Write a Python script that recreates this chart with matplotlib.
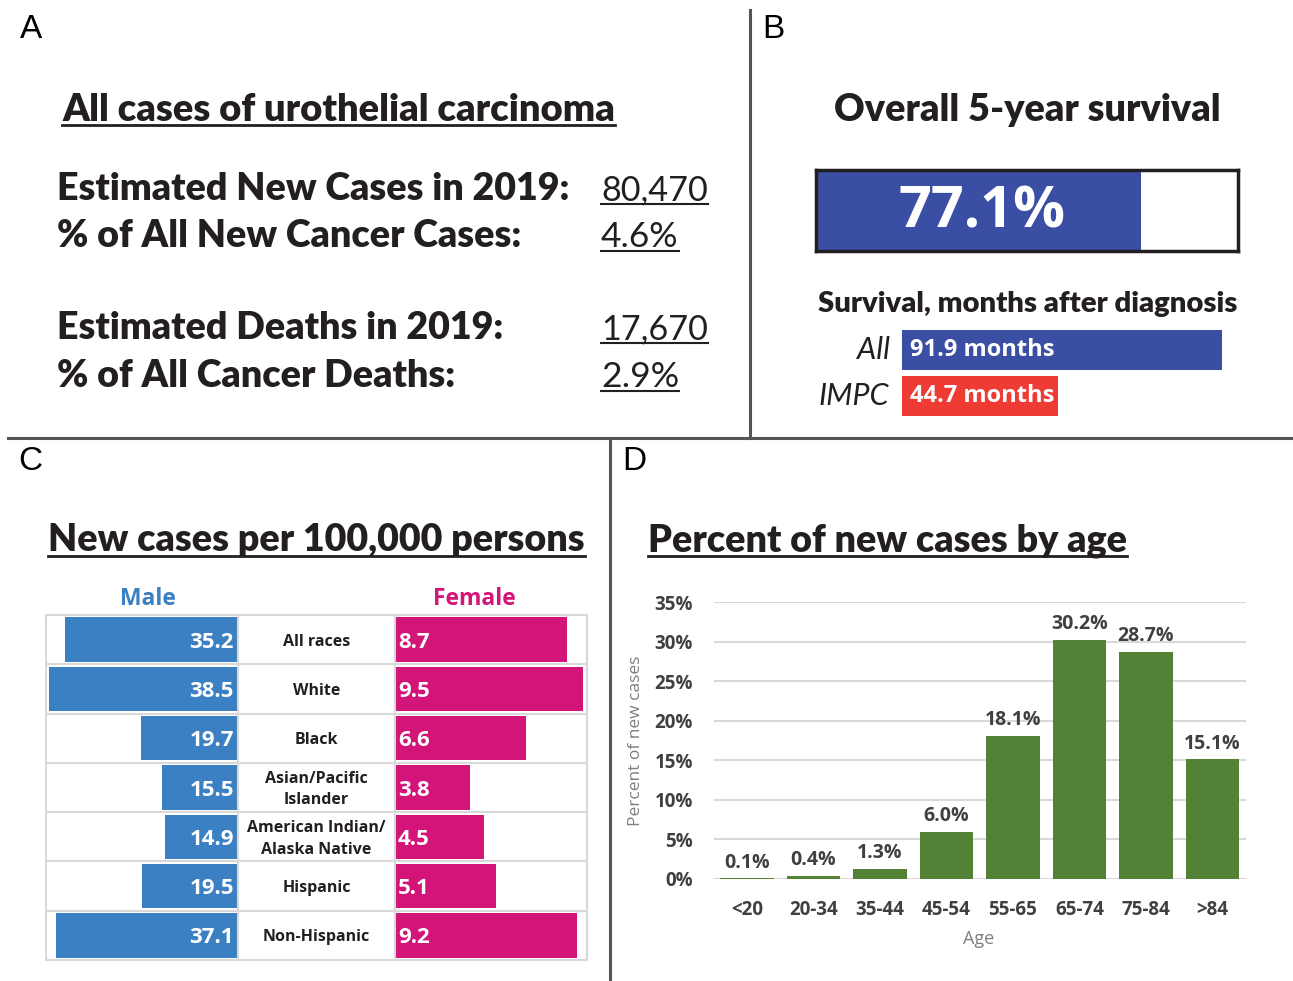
import numpy as np
import matplotlib.pyplot as plt
from matplotlib.lines import Line2D

# figure size in pixels (dpi 100)
W, H = 1293, 981

# Panel A: headline numbers
stat_labels = ["Estimated New Cases in 2019:", "% of All New Cancer Cases:",
               "Estimated Deaths in 2019:", "% of All Cancer Deaths:"]
stat_values = ["80,470", "4.6%", "17,670", "2.9%"]

# Panel B: survival
overall_survival = 77.1
survival_groups = ["All", "IMPC"]
survival_months = [91.9, 44.7]

# Panel C: incidence per 100,000 by race and sex
races = ["All races", "White", "Black", "Asian/Pacific\nIslander",
         "American Indian/\nAlaska Native", "Hispanic", "Non-Hispanic"]
male_rate = [35.2, 38.5, 19.7, 15.5, 14.9, 19.5, 37.1]
female_rate = [8.7, 9.5, 6.6, 3.8, 4.5, 5.1, 9.2]

# Panel D: percent of new cases by age
age_groups = ["<20", "20-34", "35-44", "45-54", "55-65", "65-74", "75-84", ">84"]
age_pct = [0.1, 0.4, 1.3, 6.0, 18.1, 30.2, 28.7, 15.1]

NARROW = ["Lato", "DejaVu Sans"]
SANS = ["Open Sans", "DejaVu Sans"]
HELV = ["Liberation Sans", "DejaVu Sans"]
HEAVY = 800

BLUE_B = "#3a4fa3"
RED_B = "#ee3b33"
MALE_C = "#3a80c3"
FEMALE_C = "#d3157a"
GREEN = "#538135"
GRID = "#d9d9d9"
DARK = "#404040"
INK = "#231f20"


def box(x0, y0, x1, y1):
    return [x0 / W, 1 - y1 / H, (x1 - x0) / W, (y1 - y0) / H]


def txt(x, y, s, **kw):
    return fig.text(x / W, 1 - y / H, s, **kw)


fig = plt.figure(figsize=(W / 100, H / 100), dpi=100)
underlines = []
fits = []  # (text, target width in px) -- condensed look of the original font

# divider lines
for xs, ys in [([750, 750], [10, 438]), ([8, 1293], [438, 438]), ([610, 610], [438, 981])]:
    fig.add_artist(Line2D([x / W for x in xs], [1 - y / H for y in ys],
                          transform=fig.transFigure, color="#555555", lw=2.2))

# panel letters
for letter, x, y in [("A", 20, 30), ("B", 762, 30), ("C", 18, 462), ("D", 622, 462)]:
    txt(x, y, letter, family=HELV, fontsize=24, va="center", ha="left")

# ---------- Panel A ----------
t = txt(62, 121, "All cases of urothelial carcinoma", family=NARROW, fontsize=27,
        fontweight=HEAVY, va="baseline", color=INK)
underlines.append((t, 125, 2.0))
fits.append((t, 555))
baselines = [200, 247, 339, 387]
label_texts = []
for lab, val, yb in zip(stat_labels, stat_values, baselines):
    label_texts.append(txt(57, yb, lab, family=NARROW, fontsize=28, fontweight=HEAVY,
                           va="baseline", color=INK))
    t = txt(601, yb, val, family=NARROW, fontsize=28, va="baseline", color=INK)
    underlines.append((t, yb + 4, 1.5))
    fits.append((t, {"80,470": 107, "4.6%": 78, "17,670": 107, "2.9%": 78}[val]))
fits.append((label_texts[0], 511))

# ---------- Panel B ----------
t = txt(1027, 121, "Overall 5-year survival", family=NARROW, fontsize=27,
        fontweight=HEAVY, ha="center", va="baseline", color=INK)
fits.append((t, 387))

ax_o = fig.add_axes(box(816, 170, 1238, 251))
ax_o.barh([0], [overall_survival], height=1.0, color=BLUE_B)
ax_o.set_xlim(0, 100)
ax_o.set_ylim(-0.5, 0.5)
ax_o.set_xticks([])
ax_o.set_yticks([])
for s in ax_o.spines.values():
    s.set_linewidth(2.5)
    s.set_color(INK)
ax_o.text(39.3, -0.02, f"{overall_survival}%", color="white",
          family=SANS, fontweight="bold", fontsize=41.5, ha="center", va="center")

t = txt(1028, 312, "Survival, months after diagnosis", family=NARROW, fontsize=21,
        fontweight=HEAVY, ha="center", va="baseline", color=INK)
fits.append((t, 419))

ax_s = fig.add_axes(box(902, 327, 1238, 419))
ax_s.barh(range(len(survival_months)), survival_months, height=0.87,
          color=[BLUE_B, RED_B])
ax_s.set_xlim(0, 336 / 320 * 91.9)
ax_s.set_ylim(1.5, -0.5)
ax_s.axis("off")
for i, (g, m) in enumerate(zip(survival_groups, survival_months)):
    ax_s.annotate(f"{m} months", (0, i), xytext=(6, 0), textcoords="offset points",
                  color="white", family=SANS, fontweight="bold", fontsize=17,
                  ha="left", va="center")
    ax_s.annotate(g, (0, i), xytext=(-9, 0), textcoords="offset points",
                  color=INK, family=NARROW, style="italic", fontsize=22,
                  ha="right", va="center")

# ---------- Panel C ----------
t = txt(48, 551, "New cases per 100,000 persons", family=NARROW, fontsize=27,
        fontweight=HEAVY, va="baseline", color=INK)
underlines.append((t, 556, 2.0))
fits.append((t, 536))
txt(148, 596, "Male", family=SANS, fontsize=16.5, fontweight="bold",
    color=MALE_C, ha="center", va="center_baseline")
txt(474, 596, "Female", family=SANS, fontsize=16.5, fontweight="bold",
    color=FEMALE_C, ha="center", va="center_baseline")

n = len(races)
ax_m = fig.add_axes(box(46, 615, 238, 960))
ax_c = fig.add_axes(box(238, 615, 395, 960))
ax_f = fig.add_axes(box(395, 615, 587, 960))
ax_m.barh(range(n), male_rate, height=0.9, color=MALE_C)
ax_m.set_xlim(192 / 189 * 38.5, 0)
ax_f.barh(range(n), female_rate, height=0.9, color=FEMALE_C)
ax_f.set_xlim(0, 192 / 188 * 9.5)
ax_c.set_xlim(0, 1)
for ax in (ax_m, ax_c, ax_f):
    ax.set_ylim(n - 0.5, -0.5)
    ax.set_xticks([])
    ax.set_yticks([])
    for s in ax.spines.values():
        s.set_color(GRID)
        s.set_linewidth(1.5)
    for k in range(1, n):
        ax.axhline(k - 0.5, color=GRID, lw=1.5)
for i in range(n):
    ax_m.annotate(f"{male_rate[i]}", (0, i), xytext=(-3, 0), textcoords="offset points",
                  color="white", family=SANS, fontweight="bold", fontsize=16,
                  ha="right", va="center_baseline")
    ax_f.annotate(f"{female_rate[i]}", (0, i), xytext=(2, 0), textcoords="offset points",
                  color="white", family=SANS, fontweight="bold", fontsize=16,
                  ha="left", va="center_baseline")
    ax_c.annotate(races[i], (0.5, i), xytext=(0, -1.5), textcoords="offset points",
                  family=SANS, fontweight="bold", fontsize=11.5,
                  ha="center", va="center", linespacing=1.45, color=INK)

# ---------- Panel D ----------
t = txt(648, 551, "Percent of new cases by age", family=NARROW, fontsize=27,
        fontweight=HEAVY, va="baseline", color=INK)
underlines.append((t, 556, 2.0))
fits.append((t, 478))

ax_d = fig.add_axes(box(713.75, 602, 1245.75, 879))
x = np.arange(len(age_groups))
ax_d.bar(x, age_pct, width=0.8, color=GREEN, zorder=3)
ax_d.set_xlim(-0.5, len(age_groups) - 0.5)
ax_d.set_ylim(0, 35)
ax_d.set_yticks(np.arange(0, 36, 5))
ax_d.set_yticklabels([f"{v}%" for v in range(0, 36, 5)])
ax_d.set_xticks(x)
ax_d.set_xticklabels(age_groups)
ax_d.grid(axis="y", color=GRID, lw=1.5, zorder=0)
ax_d.tick_params(length=0, labelcolor=DARK)
ax_d.tick_params(axis="y", pad=15)
ax_d.tick_params(axis="x", pad=15)
for lab in ax_d.get_xticklabels() + ax_d.get_yticklabels():
    lab.set_family(SANS)
    lab.set_fontweight("bold")
    lab.set_fontsize(13.5)
for s in ax_d.spines.values():
    s.set_visible(False)
for xi, v in zip(x, age_pct):
    ax_d.annotate(f"{v:.1f}%", (xi, v), xytext=(0, 4), textcoords="offset points",
                  ha="center", va="bottom", family=SANS, fontweight="bold",
                  fontsize=14, color=DARK)
ax_d.set_ylabel("Percent of new cases", family=SANS, fontsize=12.5, color="#7f7f7f")
ax_d.yaxis.set_label_coords(-0.146, 0.5)
ax_d.yaxis.label.set_va("center")
ax_d.set_xlabel("Age", family=SANS, fontsize=13, color="#7f7f7f")
ax_d.xaxis.set_label_coords(0.4986, -0.217)
ax_d.xaxis.label.set_va("center")

# shrink the title-like texts to the widths of the original condensed face
fig.canvas.draw()
renderer = fig.canvas.get_renderer()
for t, target in fits:
    w = t.get_window_extent(renderer).width
    t.set_fontsize(t.get_fontsize() * target / w)
size = label_texts[0].get_fontsize()
for t in label_texts[1:]:
    t.set_fontsize(size)

# underlines under titles and numbers
fig.canvas.draw()
for t, y, lw in underlines:
    bb = t.get_window_extent(renderer)
    fig.add_artist(Line2D([bb.x0 / W, bb.x1 / W], [1 - y / H] * 2,
                          transform=fig.transFigure, color=INK, lw=lw))

fig.savefig("out.png", dpi=100)
